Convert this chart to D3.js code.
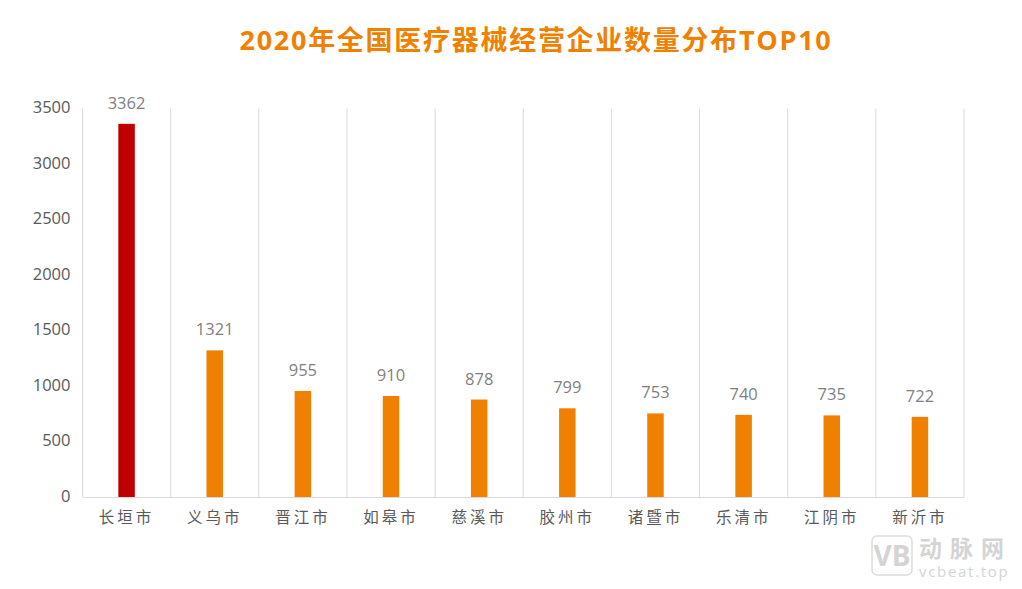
<!DOCTYPE html>
<html>
<head>
<meta charset="utf-8">
<script src="https://cdnjs.cloudflare.com/ajax/libs/d3/7.8.5/d3.min.js"></script>
<style>
  html, body { margin: 0; padding: 0; background: #fff; }
  svg { display: block; }
  text { font-family: "Open Sans", "Noto Sans CJK SC", sans-serif; }
</style>
</head>
<body>
<svg id="chart" width="1022" height="589"></svg>
<script>
var cities = ['长垣市', '义乌市', '晋江市', '如皋市', '慈溪市', '胶州市', '诸暨市', '乐清市', '江阴市', '新沂市'];
var counts = [3362, 1321, 955, 910, 878, 799, 753, 740, 735, 722];
var yTicks = [0, 500, 1000, 1500, 2000, 2500, 3000, 3500];
var titleText = '2020年全国医疗器械经营企业数量分布TOP10';

var svg = d3.select('#chart');
var plotLeft = 82.5, plotRight = 964, plotTop = 108.5, plotBottom = 497;

var x = d3.scaleBand().domain(cities).range([plotLeft, plotRight]).paddingInner(0).paddingOuter(0);
var y = d3.scaleLinear().domain([0, 3500]).range([plotBottom, plotTop]);

//title
svg.append('text')
  .attr('x', 536).attr('y', 50)
  .attr('text-anchor', 'middle')
  .attr('font-size', 27).attr('font-weight', 700)
  .attr('fill', '#f08000')
  .style('letter-spacing', '1.72px')
  .text(titleText);

//vertical separators between the categories
var seps = d3.range(cities.length + 1);
svg.selectAll('line.sep').data(seps).enter().append('line')
  .attr('class', 'sep')
  .attr('x1', function(d) { return plotLeft + d * x.bandwidth(); })
  .attr('x2', function(d) { return plotLeft + d * x.bandwidth(); })
  .attr('y1', plotTop).attr('y2', plotBottom)
  .attr('stroke', '#d9d9d9').attr('stroke-width', 1);

//x axis
var xAxis = svg.append('g')
  .attr('transform', 'translate(0,' + plotBottom + ')')
  .call(d3.axisBottom(x).tickSize(0).tickPadding(15));
xAxis.select('.domain').attr('stroke', '#d9d9d9');
xAxis.selectAll('text')
  .attr('font-size', 15.5).attr('fill', '#595959')
  .style('letter-spacing', '3px')
  .style('font-family', '"Noto Sans CJK SC", sans-serif');

//y axis
var yAxis = svg.append('g')
  .attr('transform', 'translate(' + plotLeft + ',0)')
  .call(d3.axisLeft(y).tickValues(yTicks).tickSize(0).tickPadding(12).tickFormat(d3.format('d')));
yAxis.select('.domain').remove();
yAxis.selectAll('text')
  .attr('y', -1)
  .attr('font-size', 16.5).attr('fill', '#595959');

//bars, the first one is highlighted
var barW = 16.5;
svg.selectAll('rect.bar').data(counts).enter().append('rect')
  .attr('class', 'bar')
  .attr('x', function(d, i) { return x(cities[i]) + x.bandwidth() / 2 - barW / 2; })
  .attr('y', function(d) { return y(d); })
  .attr('width', barW)
  .attr('height', function(d) { return plotBottom - y(d); })
  .attr('fill', function(d, i) { return i === 0 ? '#c00000' : '#f08000'; });

//value labels
svg.selectAll('text.val').data(counts).enter().append('text')
  .attr('class', 'val')
  .attr('x', function(d, i) { return x(cities[i]) + x.bandwidth() / 2; })
  .attr('y', function(d) { return y(d) - 15; })
  .attr('text-anchor', 'middle')
  .attr('font-size', 16.5).attr('fill', '#7f7f7f')
  .text(function(d) { return d; });

//watermark
var mark = svg.append('g').attr('fill', '#d4d4d4');
mark.append('rect')
  .attr('x', 872).attr('y', 536).attr('width', 40).attr('height', 39).attr('rx', 5)
  .attr('fill', 'none').attr('stroke', '#dcdcdc').attr('stroke-width', 1.5);
mark.append('text')
  .attr('x', 892).attr('y', 566).attr('text-anchor', 'middle')
  .attr('font-size', 28).attr('font-weight', 700)
  .text('VB');
mark.append('text')
  .attr('x', 919).attr('y', 557)
  .attr('font-size', 23).attr('font-weight', 700)
  .style('letter-spacing', '8px')
  .style('font-family', '"Noto Sans CJK SC", sans-serif')
  .text('动脉网');
mark.append('text')
  .attr('x', 919).attr('y', 577)
  .attr('font-size', 15)
  .style('letter-spacing', '1.7px')
  .text('vcbeat.top');
</script>
</body>
</html>
